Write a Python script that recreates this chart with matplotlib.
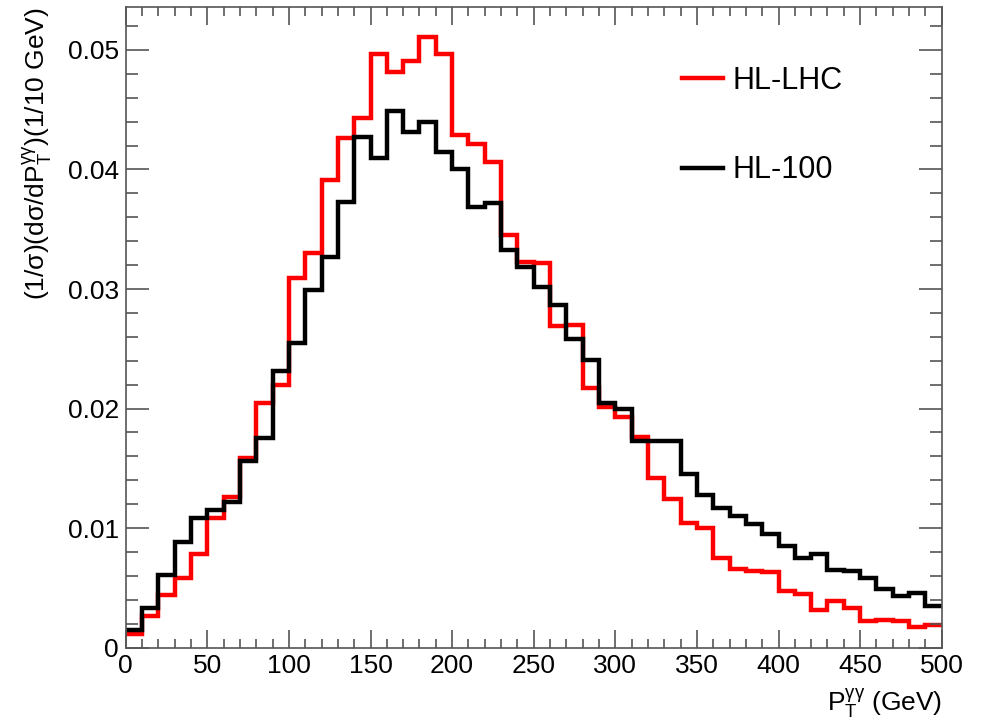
import numpy as np
import matplotlib
matplotlib.use("Agg")
import matplotlib.pyplot as plt
from matplotlib.ticker import MultipleLocator

plt.rcParams['font.family'] = ['Liberation Sans', 'DejaVu Sans']
plt.rcParams['mathtext.fontset'] = 'custom'
plt.rcParams['mathtext.rm'] = 'Liberation Sans'
plt.rcParams['mathtext.it'] = 'Liberation Sans:italic'

# bin edges (GeV), 10 GeV bins
bin_edges = np.arange(0, 510, 10)

# normalised distributions
hl_lhc = [0.0011, 0.0026, 0.0044, 0.0058, 0.0078, 0.0108, 0.0126, 0.0159, 0.0205, 0.0220,
          0.0309, 0.0330, 0.0391, 0.0426, 0.0443, 0.0497, 0.0482, 0.0491, 0.0511, 0.0497,
          0.0429, 0.0421, 0.0406, 0.0345, 0.0323, 0.0322, 0.0269, 0.0270, 0.0217, 0.0201,
          0.0193, 0.0176, 0.0142, 0.0124, 0.0104, 0.0100, 0.0075, 0.0066, 0.0064, 0.0063,
          0.0047, 0.0045, 0.0031, 0.0039, 0.0033, 0.0022, 0.0023, 0.0022, 0.0017, 0.0019]
hl_100 = [0.0015, 0.0033, 0.0061, 0.0088, 0.0108, 0.0115, 0.0122, 0.0156, 0.0175, 0.0231,
          0.0255, 0.0299, 0.0327, 0.0373, 0.0427, 0.0410, 0.0449, 0.0431, 0.0440, 0.0415,
          0.0400, 0.0369, 0.0372, 0.0333, 0.0318, 0.0302, 0.0287, 0.0258, 0.0241, 0.0205,
          0.0200, 0.0173, 0.0173, 0.0173, 0.0145, 0.0128, 0.0117, 0.0110, 0.0103, 0.0095,
          0.0085, 0.0075, 0.0078, 0.0065, 0.0064, 0.0058, 0.0049, 0.0043, 0.0046, 0.0035]

fig = plt.figure(figsize=(9.87, 7.26), dpi=100)
ax = fig.add_axes([0.1274, 0.1081, 0.9541 - 0.1274, 0.9904 - 0.1081])

ax.stairs(hl_lhc, bin_edges, color='#ff0000', lw=3.2, baseline=None, label='HL-LHC')
ax.stairs(hl_100, bin_edges, color='black', lw=3.2, baseline=None, label='HL-100')

ax.set_xlim(0, 500)
ax.set_ylim(0, 0.0536)

ax.xaxis.set_major_locator(MultipleLocator(50))
ax.xaxis.set_minor_locator(MultipleLocator(10))
ax.yaxis.set_major_locator(MultipleLocator(0.01))
ax.yaxis.set_minor_locator(MultipleLocator(0.002))
ax.yaxis.set_major_formatter(plt.FuncFormatter(lambda v, p: '0' if abs(v) < 1e-9 else f'{v:.2f}'))

grey = '#555555'
for s in ax.spines.values():
    s.set_color(grey)
    s.set_linewidth(1.2)
ax.tick_params(axis='both', which='both', direction='in', top=True, right=True,
               color=grey, width=1.2, labelsize=19)
ax.tick_params(axis='x', which='major', length=13, pad=5)
ax.tick_params(axis='x', which='minor', length=6.5)
ax.tick_params(axis='y', which='major', length=16.5, pad=5)
ax.tick_params(axis='y', which='minor', length=8.5)

ax.set_xlabel(r'P$_{\mathrm{T}}^{\mathrm{\gamma\gamma}}$ (GeV)', fontsize=19, loc='right', labelpad=6)
ax.set_ylabel(r'(1/$\mathrm{\sigma}$)(d$\mathrm{\sigma}$/dP$_{\mathrm{T}}^{\mathrm{\gamma\gamma}}$)(1/10 GeV)',
              fontsize=19, loc='top', labelpad=10)

ax.legend(loc='upper left', bbox_to_anchor=(0.682, 0.908), frameon=False,
          fontsize=22, handlelength=1.35, handletextpad=0.28, labelspacing=1.95,
          borderpad=0, borderaxespad=0)

fig.savefig('out.png', dpi=100)
